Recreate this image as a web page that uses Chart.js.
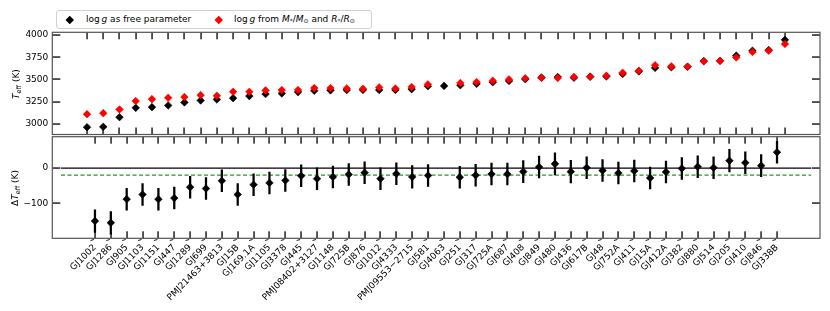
<!DOCTYPE html>
<html><head><meta charset="utf-8">
<script src="https://cdn.jsdelivr.net/npm/chart.js@4.4.1/dist/chart.umd.min.js"></script>
<style>
html,body{margin:0;padding:0;background:#fff;}
body{width:830px;height:311px;position:relative;overflow:hidden;font-family:"DejaVu Sans",sans-serif;color:#000;}
canvas{position:absolute;left:0;}
#c1{top:0;}
#c2{top:118px;}
.legend{position:absolute;left:56px;top:10px;width:314px;height:17px;border:1px solid #d0d0d0;border-radius:3px;background:#fff;font-size:9px;}
.legend .mk{position:absolute;width:5.5px;height:5.5px;transform:rotate(45deg);top:5.5px;}
.legend .txt{position:absolute;top:2px;white-space:nowrap;line-height:12px;}
.legend sub{font-size:6px;vertical-align:-1px;}
.ylab{position:absolute;font-size:9px;white-space:nowrap;transform:translate(-50%,-50%) rotate(-90deg);}
.ylab sub{font-size:6.5px;vertical-align:-1.5px;}
</style>
</head>
<body>
<canvas id="c1" width="830" height="152"></canvas>
<canvas id="c2" width="830" height="193"></canvas>
<div class="legend">
  <span class="mk" style="left:9.5px;background:#000"></span>
  <span class="txt" style="left:29px">log&thinsp;<i>g</i> as free parameter</span>
  <span class="mk" style="left:158.5px;background:#ff0000"></span>
  <span class="txt" style="left:177px">log&thinsp;<i>g</i> from <i>M</i><sub>*</sub>/<i>M</i><sub>⊙</sub> and <i>R</i><sub>*</sub>/<i>R</i><sub>⊙</sub></span>
</div>
<div class="ylab" style="left:17px;top:84px"><i>T</i><sub>eff</sub> (K)</div>
<div class="ylab" style="left:16px;top:188px">Δ<i>T</i><sub>eff</sub> (K)</div>
<script>
// ---- data ----
const names = ["GJ1002","GJ1286","GJ905","GJ1103","GJ1151","GJ447","GJ1289","GJ699","PMJ21463+3813","GJ15B",
  "GJ169.1A","GJ1105","GJ3378","GJ445","PMJ08402+3127","GJ1148","GJ725B","GJ876","GJ1012","GJ4333",
  "PMJ09553−2715","GJ581","GJ4063","GJ251","GJ317","GJ725A","GJ687","GJ408","GJ849","GJ480",
  "GJ436","GJ617B","GJ48","GJ752A","GJ411","GJ15A","GJ412A","GJ382","GJ880","GJ514",
  "GJ205","GJ410","GJ846","GJ338B"];
const teffFree = [2962,2966,3075,3180,3188,3207,3241,3263,3274,3289,
  3312,3335,3342,3357,3372,3377,3380,3382,3380,3382,
  3390,3423,3427,3434,3450,3468,3483,3503,3520,3527,
  3518,3531,3534,3561,3590,3630,3636,3642,3707,3710,
  3767,3823,3830,3945];
const teffPhys = [3109,3120,3162,3256,3278,3293,3301,3323,3316,3361,
  3361,3376,3380,3380,3402,3402,3398,3395,3410,3398,
  3415,3444,null,3460,3470,3485,3500,3513,3517,3515,
  3528,3530,3541,3575,3598,3660,3647,3643,3703,3709,
  3746,3808,3823,3898];
const deltaT = [-150,-155,-88,-75,-88,-85,-54,-58,-36,-75,
  -47,-42,-35,-22,-30,-25,-18,-13,-30,-16,
  -25,-21,null,-26,-20,-17,-17,-10,3,12,
  -10,1,-7,-14,-8,-28,-11,-1,4,1,
  21,15,7,45];
const deltaErr = [32,32,31,31,31,31,31,31,31,31,
  31,31,31,31,31,31,31,31,31,31,
  32,31,null,31,31,31,31,31,31,31,
  32,31,31,31,31,31,31,31,31,31,
  32,31,31,31];
const topTicks = [3000,3250,3500,3750,4000];
const botTicks = [-100,0];
const meanOffset = -20;
const X_MIN = -2.14, X_MAX = 45.16;

// ---- helpers ----
const FONT = {family:"DejaVu Sans", size:9};
const TL = 7;
const frame = {
  id:'frame',
  afterDraw(chart){
    const ctx = chart.ctx, a = chart.chartArea, x = chart.scales.x, y = chart.scales.y;
    ctx.save();
    ctx.globalAlpha = 1;
    ctx.globalCompositeOperation = 'source-over';
    ctx.setLineDash([]);
    ctx.fillStyle = '#000';
    for (let i=0;i<names.length;i++){
      const px = Math.round(x.getPixelForValue(i));
      ctx.fillRect(px-0.6, a.top, 1.3, TL);
      ctx.fillRect(px-0.6, a.bottom-TL, 1.3, TL);
    }
    const tv = (chart.canvas.id==='c1') ? topTicks : botTicks;
    for (const v of tv){
      const py = Math.round(y.getPixelForValue(v));
      ctx.fillRect(a.left, py-0.6, TL+1, 1.3);
      ctx.fillRect(a.right-TL-1, py-0.6, TL+1, 1.3);
    }
    ctx.strokeStyle='#555'; ctx.lineWidth=1.2;
    ctx.strokeRect(a.left, a.top, a.right-a.left, a.bottom-a.top);
    if (chart.canvas.id==='c2'){
      ctx.strokeStyle='#000'; ctx.lineWidth=0.9;
      for (let i=0;i<names.length;i++){
        const px = x.getPixelForValue(i);
        ctx.beginPath(); ctx.moveTo(px-4.5,a.bottom+2.2); ctx.lineTo(px-1,a.bottom+1.2); ctx.stroke();
      }
    }
    ctx.restore();
  }
};
const yAxisBase = {
  grid:{display:false, drawTicks:false},
  border:{display:false},
  afterFit(s){ s.width = 52.3; }
};
const diamond = (color)=>({pointStyle:'rectRot', radius:3.8, hoverRadius:3.8, backgroundColor:color, borderColor:color, borderWidth:0.6});

// ---- top panel ----
new Chart(document.getElementById('c1'), {
  type:'scatter',
  data:{datasets:[
    Object.assign({label:'phys', order:0,
      data: names.map((n,i)=>({x:i, y:teffPhys[i]})).filter(p=>p.y!==null)}, diamond('#ff0000')),
    Object.assign({label:'free', order:1,
      data: names.map((n,i)=>({x:i, y:teffFree[i]}))}, diamond('#000000'))
  ]},
  options:{
    responsive:false, animation:false, devicePixelRatio:1, events:[],
    layout:{padding:{left:0, right:10, top:32.3, bottom:17.5}},
    plugins:{legend:{display:false}, tooltip:{enabled:false}},
    scales:{
      x:{type:'linear', min:X_MIN, max:X_MAX, display:false},
      y:Object.assign({}, yAxisBase, {min:2880, max:4030,
        afterBuildTicks(s){ s.ticks = topTicks.map(v=>({value:v})); },
        ticks:{padding:4, font:FONT, color:'#000', callback:(v)=>String(v)}})
    }
  },
  plugins:[frame]
});

// ---- bottom panel ----
const errData = [];
names.forEach((n,i)=>{ if(deltaT[i]!==null) errData.push({x:i, y:[deltaT[i]-deltaErr[i], deltaT[i]+deltaErr[i]]}); });
new Chart(document.getElementById('c2'), {
  type:'scatter',
  data:{datasets:[
    Object.assign({label:'delta', order:0,
      data: names.map((n,i)=>({x:i, y:deltaT[i]})).filter(p=>p.y!==null)}, diamond('#000000')),
    {type:'bar', label:'err', order:1, data: errData, barThickness:1.6, backgroundColor:'#000', borderWidth:0},
    {type:'line', label:'zero', order:2, data:[{x:X_MIN,y:0},{x:X_MAX,y:0}], borderColor:'#000', borderWidth:1.4, pointRadius:0},
    {type:'line', label:'mean', order:3, data:[{x:X_MIN,y:meanOffset},{x:X_MAX,y:meanOffset}], borderColor:'#1f9a1f', borderWidth:1.2, borderDash:[4,2.5], pointRadius:0}
  ]},
  options:{
    responsive:false, animation:false, devicePixelRatio:1, events:[],
    layout:{padding:{left:0, right:10, top:18.7, bottom:0}},
    plugins:{legend:{display:false}, tooltip:{enabled:false}},
    scales:{
      x:{type:'linear', min:X_MIN, max:X_MAX, position:'bottom',
        grid:{display:false, drawTicks:false}, border:{display:false},
        afterBuildTicks(s){ s.ticks = names.map((n,i)=>({value:i})); },
        ticks:{autoSkip:false, minRotation:45, maxRotation:45, padding:4, font:FONT, color:'#000',
          callback:(v)=>names[v]},
        afterFit(s){ s.height = 72.7; }
      },
      y:Object.assign({}, yAxisBase, {min:-199, max:89,
        afterBuildTicks(s){ s.ticks = botTicks.map(v=>({value:v})); },
        ticks:{padding:4, font:FONT, color:'#000', callback:(v)=>String(v).replace('-','−')}})
    }
  },
  plugins:[frame]
});
</script>
</body></html>
